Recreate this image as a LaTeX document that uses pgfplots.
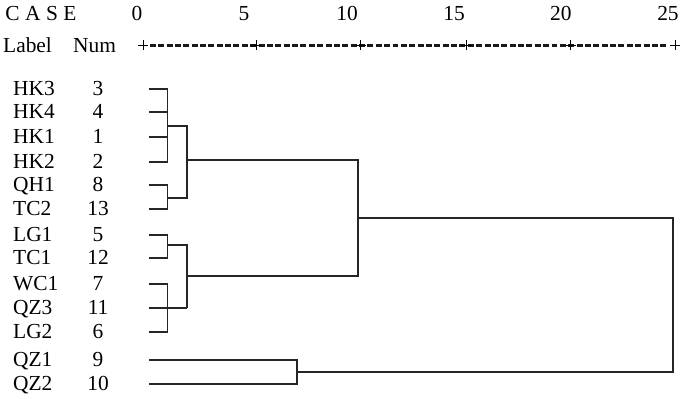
\documentclass[border=0pt]{standalone}
\usepackage{pgfplots}
\pgfplotsset{compat=1.18}
\usepackage{fontspec}
\setmainfont{Liberation Serif}
\pgfplotsset{dl/.style={black!85, line width=1.2pt, no marks}}
\tikzset{lab/.style={anchor=base west, inner sep=0pt, yshift=-6.5bp},
  num/.style={anchor=base, inner sep=0pt, yshift=-6.5bp}}
\begin{document}
\fontsize{21.5}{24}\selectfont
\begin{tikzpicture}
\begin{axis}[width=685bp, height=399bp, scale only axis, hide axis,
  xmin=-6.72, xmax=25.47, ymin=0, ymax=399, y dir=reverse, clip=false]
\path (rel axis cs:0,0) rectangle (rel axis cs:1,1);
% ruler
\addplot[black!90, line width=2.6pt, dash pattern=on 6pt off 2.4pt, no marks] coordinates {(0.32,45.5)(24.7,45.5)};
\addplot[black, only marks, mark=+, mark size=5bp, mark options={line width=1pt}] coordinates {(0,45)(5.31,45)(10.24,45)(15.18,45)(20.11,45)(25,45)};
% dendrogram: cluster HK
\addplot[dl] coordinates {(0.28,89)(1.17,89)(1.17,162)(0.28,162)};
\addplot[dl] coordinates {(0.28,112)(1.17,112)};
\addplot[dl] coordinates {(0.28,137)(1.17,137)};
\addplot[dl] coordinates {(0.28,185)(1.17,185)(1.17,209)(0.28,209)};
\addplot[dl] coordinates {(1.17,126)(2.07,126)(2.07,198)(1.17,198)};
\addplot[dl] coordinates {(2.07,160)(10.10,160)(10.10,276)(2.07,276)};
% cluster LG
\addplot[dl] coordinates {(0.28,235)(1.17,235)(1.17,258)(0.28,258)};
\addplot[dl] coordinates {(0.28,284)(1.17,284)(1.17,332)(0.28,332)};
\addplot[dl] coordinates {(0.28,308)(2.07,308)};
\addplot[dl] coordinates {(1.17,245)(2.07,245)(2.07,308)};
% cluster QZ
\addplot[dl] coordinates {(0.28,360)(7.24,360)(7.24,384)(0.28,384)};
\addplot[dl] coordinates {(10.10,218)(24.91,218)(24.91,372)(7.24,372)};
% header
\node[lab, yshift=-0.5bp] at (axis cs:-6.48,14) {C\hspace{5.5pt}A\hspace{5.5pt}S\hspace{5.5pt}E};
\node[num, yshift=-0.5bp] at (axis cs:-0.28,14) {0};
\node[num, yshift=-0.5bp] at (axis cs:4.75,14) {5};
\node[num, yshift=-0.5bp] at (axis cs:9.59,14) {10};
\node[num, yshift=-0.5bp] at (axis cs:14.62,14) {15};
\node[num, yshift=-0.5bp] at (axis cs:19.64,14) {20};
\node[num, yshift=-0.5bp] at (axis cs:24.67,14) {25};
\node[lab, yshift=-0.5bp] at (axis cs:-6.58,45) {Label};
\node[lab, yshift=-0.5bp] at (axis cs:-3.29,45) {Num};
% leaf labels
\node[lab] at (axis cs:-6.11,89) {HK3};  \node[num] at (axis cs:-2.11,89) {3};
\node[lab] at (axis cs:-6.11,112) {HK4}; \node[num] at (axis cs:-2.11,112) {4};
\node[lab] at (axis cs:-6.11,137) {HK1}; \node[num] at (axis cs:-2.11,137) {1};
\node[lab] at (axis cs:-6.11,162) {HK2}; \node[num] at (axis cs:-2.11,162) {2};
\node[lab] at (axis cs:-6.11,185) {QH1}; \node[num] at (axis cs:-2.11,185) {8};
\node[lab] at (axis cs:-6.11,209) {TC2}; \node[num] at (axis cs:-2.11,209) {13};
\node[lab] at (axis cs:-6.11,235) {LG1}; \node[num] at (axis cs:-2.11,235) {5};
\node[lab] at (axis cs:-6.11,258) {TC1}; \node[num] at (axis cs:-2.11,258) {12};
\node[lab] at (axis cs:-6.11,284) {WC1}; \node[num] at (axis cs:-2.11,284) {7};
\node[lab] at (axis cs:-6.11,308) {QZ3}; \node[num] at (axis cs:-2.11,308) {11};
\node[lab] at (axis cs:-6.11,332) {LG2}; \node[num] at (axis cs:-2.11,332) {6};
\node[lab] at (axis cs:-6.11,360) {QZ1}; \node[num] at (axis cs:-2.11,360) {9};
\node[lab] at (axis cs:-6.11,384) {QZ2}; \node[num] at (axis cs:-2.11,384) {10};
\end{axis}
\end{tikzpicture}
\end{document}
